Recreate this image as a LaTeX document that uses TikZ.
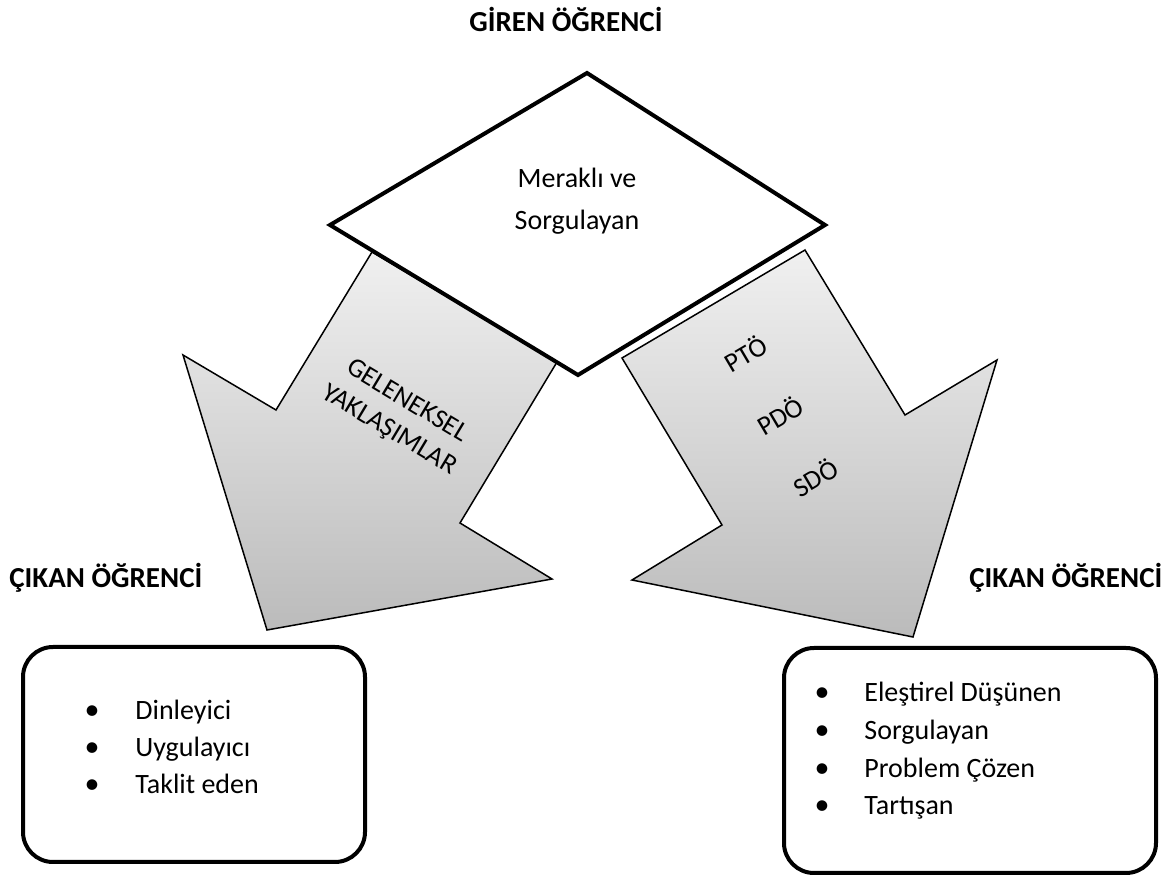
\documentclass[tikz,border=0pt]{standalone}
\usepackage{fontspec}
\setmainfont{Carlito}
\definecolor{agtop}{HTML}{F0F0F0}
\definecolor{agbot}{HTML}{BBBBBB}
\begin{document}
\begin{tikzpicture}[x=0.5pt,y=-0.5pt,
  arrowshape/.style={draw=black,line width=0.75pt,line join=miter,top color=agtop,bottom color=agbot},
  diamondshape/.style={draw=black,fill=white,line width=2pt,line join=miter},
  listbox/.style={draw=black,line width=2pt,rounded corners=15pt},
  heading/.style={font=\fontsize{14.5}{17}\selectfont\bfseries,inner sep=0pt},
  bodytext/.style={font=\fontsize{14}{21}\selectfont,inner sep=0pt},
  bul/.style={font=\fontsize{15}{17}\selectfont,inner sep=0pt,anchor=base},
  item/.style={font=\fontsize{14}{17}\selectfont,inner sep=0pt,anchor=base west},
  arrowtext/.style={font=\fontsize{13.5}{17}\selectfont,inner sep=0pt,align=center}]
\useasboundingbox (0,0) rectangle (1175,877);

% left arrow
\coordinate (L1) at (372,252);
\coordinate (L2) at (557,362);
\coordinate (L3) at (460,523);
\coordinate (L4) at (552,579);
\coordinate (L5) at (267,630);
\coordinate (L6) at (183,355);
\coordinate (L7) at (276,410);
\path[arrowshape] (L1) -- (L2) -- (L3) -- (L4) -- (L5) -- (L6) -- (L7) -- cycle;

% right arrow
\coordinate (R1) at (622,358);
\coordinate (R2) at (805,250);
\coordinate (R3) at (905,415);
\coordinate (R4) at (997,360);
\coordinate (R5) at (913,637);
\coordinate (R6) at (632,580);
\coordinate (R7) at (722,525);
\path[arrowshape] (R1) -- (R2) -- (R3) -- (R4) -- (R5) -- (R6) -- (R7) -- cycle;

% diamond
\coordinate (DT) at (587,73);
\coordinate (DR) at (825,225);
\coordinate (DB) at (578,375);
\coordinate (DL) at (330,225);
\path[diamondshape] (DT) -- (DR) -- (DB) -- (DL) -- cycle;
\node[bodytext,align=center] (merakli) at (577,201) {Meraklı ve\\Sorgulayan};

% arrow texts
\node[arrowtext,rotate=-31] (geleneksel) at (398,416) {GELENEKSEL\\YAKLAŞIMLAR};
\node[arrowtext,rotate=30.5] (pto) at (745,353) {PTÖ};
\node[arrowtext,rotate=30.5] (pdo) at (780,415) {PDÖ};
\node[arrowtext,rotate=30.5] (sdo) at (815,477) {SDÖ};

% headings
\node[heading,anchor=base west] (giren) at (469,32) {GİREN ÖĞRENCİ};
\node[heading,anchor=base west] (cikanL) at (9,588) {ÇIKAN ÖĞRENCİ};
\node[heading,anchor=base west] (cikanR) at (969,588) {ÇIKAN ÖĞRENCİ};

% boxes
\draw[listbox] (23,647) rectangle (365,862);
\draw[listbox] (784,648) rectangle (1156,873);

% left list
\node[bul] (lb1) at (92,719) {•};
\node[bul] (lb2) at (92,757) {•};
\node[bul] (lb3) at (92,794) {•};
\node[item] (li1) at (135,719) {Dinleyici};
\node[item] (li2) at (135,757) {Uygulayıcı};
\node[item] (li3) at (135,794) {Taklit eden};

% right list
\node[bul] (rb1) at (822,702) {•};
\node[bul] (rb2) at (822,740) {•};
\node[bul] (rb3) at (822,777) {•};
\node[bul] (rb4) at (822,814) {•};
\node[item] (ri1) at (864,702) {Eleştirel Düşünen};
\node[item] (ri2) at (864,740) {Sorgulayan};
\node[item] (ri3) at (864,777) {Problem Çözen};
\node[item] (ri4) at (864,814) {Tartışan};
\end{tikzpicture}
\end{document}
